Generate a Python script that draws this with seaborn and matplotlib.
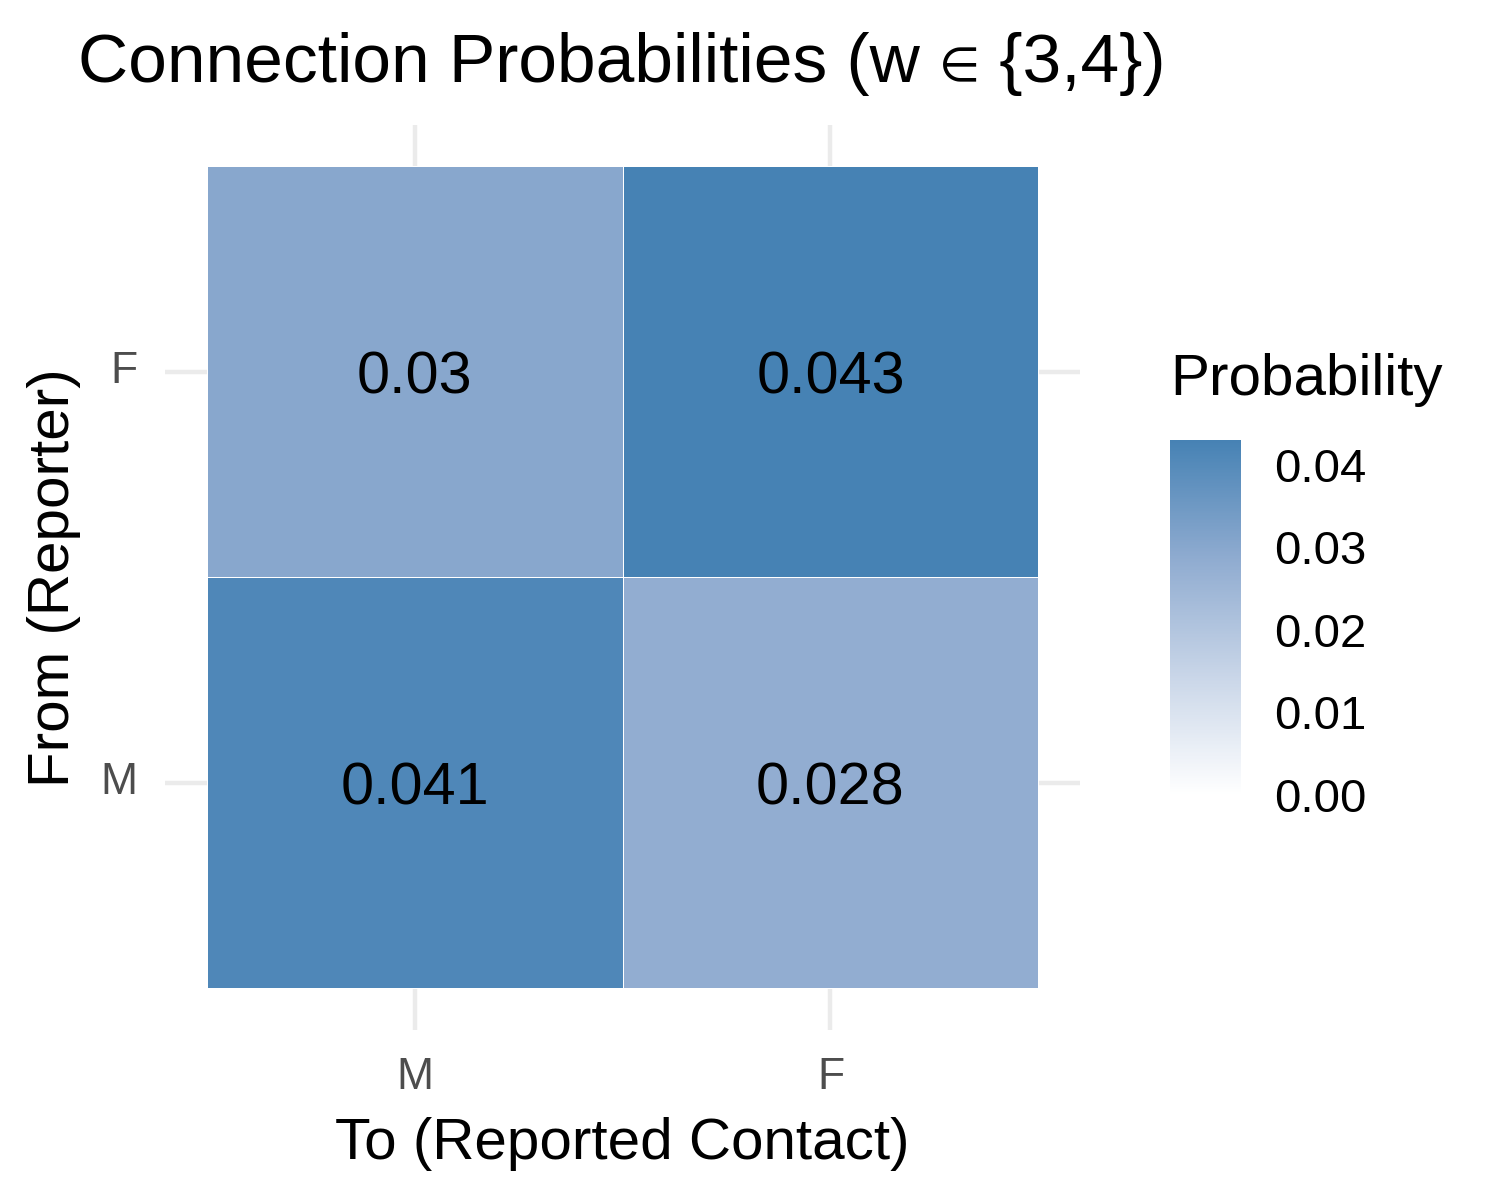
import numpy as np
import pandas as pd
import seaborn as sns
import matplotlib.pyplot as plt
from matplotlib.colors import LinearSegmentedColormap
from matplotlib.transforms import offset_copy

# data
reporters = ['F', 'M']          # rows, top to bottom
contacts = ['M', 'F']           # columns, left to right
prob_F = [0.030, 0.043]
prob_M = [0.041, 0.028]
labels_F = ['0.03', '0.043']
labels_M = ['0.041', '0.028']

df = pd.DataFrame([prob_F, prob_M], index=reporters, columns=contacts)
annot = np.array([labels_F, labels_M])

sns.set_theme(style='white')
plt.rcParams['font.family'] = ['Liberation Sans', 'DejaVu Sans']
plt.rcParams['text.color'] = 'black'

cmap = LinearSegmentedColormap.from_list(
    'wb', ['#ffffff', '#c9d6e8', '#8fabd0', '#4682b4'])

fig = plt.figure(figsize=(7.5, 6), dpi=200)
ax = fig.add_axes([0.11, 0.142, 0.61, 0.754])
cax = fig.add_axes([0.78, 0.3375, 0.047, 0.296])

sns.heatmap(df, ax=ax, cbar_ax=cax, cmap=cmap, vmin=0, vmax=df.values.max(),
            annot=annot, fmt='', linewidths=0.25, linecolor='white',
            annot_kws={'fontsize': 21.4, 'color': 'black', 'va': 'center_baseline'})

ax.set_xlim(-0.1, 2.1)
ax.set_ylim(2.1, -0.1)
ax.set_axisbelow(True)
ax.grid(True, color='#ebebeb', linewidth=1.6)
for s in ax.spines.values():
    s.set_visible(False)
ax.tick_params(axis='both', length=0, labelsize=16, labelcolor='#4d4d4d')
ax.tick_params(axis='x', pad=10)
ax.tick_params(axis='y', pad=10)
plt.setp(ax.get_yticklabels(), rotation=0)
ax.set_xlabel('To (Reported Contact)', fontsize=21, color='black')
ax.set_ylabel('From (Reporter)', fontsize=21, color='black')
ax.xaxis.set_label_coords(0.5, -0.097)
ax.yaxis.set_label_coords(-0.092, 0.5)

# colorbar
cax.set_yticks([0, 0.01, 0.02, 0.03, 0.04])
cax.set_yticklabels(['0.00', '0.01', '0.02', '0.03', '0.04'])
cax.tick_params(axis='y', which='both', direction='in', color='white',
                length=4.5, width=0.6, labelsize=17, pad=12, labelcolor='black',
                left=True, right=True, labelleft=False, labelright=True)
for s in cax.spines.values():
    s.set_visible(False)
cax.set_title('Probability', fontsize=21, loc='left', pad=16, x=0.0, color='black')

# title, with a smaller element-of sign
t1 = fig.text(0.052, 0.932, 'Connection Probabilities (w ', fontsize=25,
              ha='left', va='baseline')
fig.canvas.draw()
w1 = t1.get_window_extent().width
t2 = fig.text(0.052, 0.932, '\u2208', fontsize=17, ha='left', va='baseline',
              transform=offset_copy(fig.transFigure, fig=fig, x=w1, y=0, units='dots'))
fig.canvas.draw()
w2 = t2.get_window_extent().width
fig.text(0.052, 0.932, ' {3,4})', fontsize=25, ha='left', va='baseline',
         transform=offset_copy(fig.transFigure, fig=fig, x=w1 + w2, y=0, units='dots'))

fig.savefig('out.png', dpi=200)
